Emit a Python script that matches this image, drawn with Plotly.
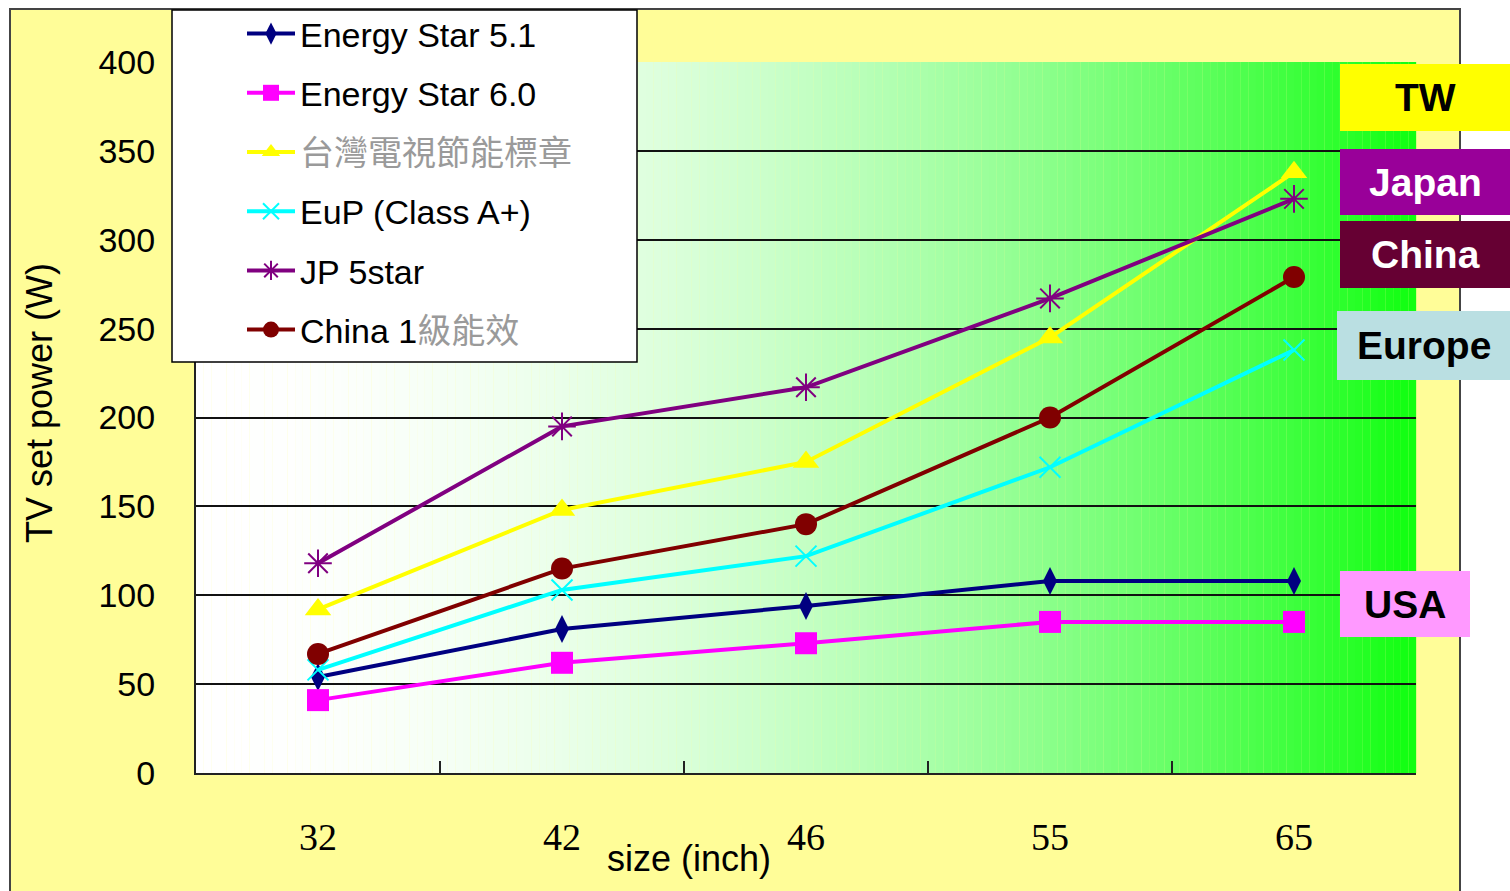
import plotly.graph_objects as go

# TV screen sizes (inch) and on-mode power limits (W) per efficiency programme
sizes = ["32", "42", "46", "55", "65"]
energy_star_51 = [54, 81, 94, 108, 108]
energy_star_60 = [41, 62, 73, 85, 85]
taiwan_label = [92, 148, 175, 245, 338]
eup_class_a_plus = [58, 103, 122, 172, 238]
jp_5star = [118, 195, 217, 267, 323]
china_grade1 = [67, 115, 140, 200, 279]

y_ticks = [0, 50, 100, 150, 200, 250, 300, 350, 400]

# region tags shown on the right-hand side
region_names = ["TW", "Japan", "China", "Europe", "USA"]

W, H = 1510, 891
L, R, T, B = 196, 94, 62, 118
PW, PH = W - L - R, H - T - B


def px(x):
    return (x - L) / PW


def py(y):
    return (H - B - y) / PH


SANS = "Liberation Sans, Arial, sans-serif"
CJK = "Liberation Sans, Noto Sans CJK TC, sans-serif"
GRAY = "#9a9a9a"

series = [
    ("Energy Star 5.1", energy_star_51, "#000080",
     dict(symbol="diamond-tall", size=20, color="#000080")),
    ("Energy Star 6.0", energy_star_60, "#FF00FF",
     dict(symbol="square", size=22, color="#FF00FF")),
    (f'<span style="color:{GRAY}">台灣電視節能標章</span>', taiwan_label, "#FFFF00",
     dict(symbol="triangle-up", size=23, color="#FFFF00")),
    ("EuP (Class A+)", eup_class_a_plus, "#00FFFF",
     dict(symbol="x-thin-open", size=21, color="#00FFFF", line=dict(width=2, color="#00FFFF"))),
    ("JP 5star", jp_5star, "#800080",
     dict(symbol="asterisk-open", size=23, color="#800080", line=dict(width=2, color="#800080"))),
    (f'China 1<span style="color:{GRAY}">級能效</span>', china_grade1, "#800000",
     dict(symbol="circle", size=22, color="#800000")),
]

fig = go.Figure()
for i, (name, vals, col, mk) in enumerate(series):
    fig.add_trace(go.Scatter(
        x=sizes, y=vals, name=name, mode="lines+markers",
        line=dict(color=col, width=4), marker=mk,
        legendgroup=f"g{i}", cliponaxis=False,
    ))

shapes = []
# chart-area panel
shapes.append(dict(type="rect", xref="paper", yref="paper",
                   x0=px(10), x1=px(1460), y0=py(900), y1=py(9),
                   fillcolor="#FFFD98", line=dict(color="#444444", width=2),
                   layer="below"))
# white-to-green horizontal gradient behind the plot
N = 160
for i in range(N):
    t = (i + 0.5) / N
    rb = int(round(16 + 239 * (1 - t * t)))
    col = f"rgb({rb},255,{rb})"
    shapes.append(dict(type="rect", xref="paper", yref="paper",
                       x0=i / N, x1=(i + 1.02) / N, y0=0, y1=1,
                       fillcolor=col, line=dict(width=0), layer="below"))
# legend frame
shapes.append(dict(type="rect", xref="paper", yref="paper",
                   x0=px(172), x1=px(637), y0=py(362), y1=py(10),
                   fillcolor="white", line=dict(color="black", width=1.5),
                   layer="above"))

annotations = [
    dict(text="size (inch)", xref="paper", yref="paper",
         x=px(689), y=py(858), xanchor="center", yanchor="middle", showarrow=False,
         font=dict(family=SANS, size=36, color="black")),
    dict(text="TV set power (W)", xref="paper", yref="paper",
         x=px(40), y=py(403), xanchor="center", yanchor="middle",
         showarrow=False, textangle=-90,
         font=dict(family=SANS, size=36, color="black")),
]

tag_styles = {
    "TW": ("#FFFF00", "black", 1340, 1512, 64, 131),
    "Japan": ("#990099", "white", 1340, 1512, 149, 215),
    "China": ("#660033", "white", 1340, 1512, 221, 288),
    "Europe": ("#BADFE2", "black", 1337, 1512, 311, 380),
    "USA": ("#FF99FF", "black", 1340, 1470, 571, 637),
}
for name in region_names:
    bg, fg, x0, x1, y0, y1 = tag_styles[name]
    shapes.append(dict(type="rect", xref="paper", yref="paper",
                       x0=px(x0), x1=px(x1), y0=py(y1), y1=py(y0),
                       fillcolor=bg, line=dict(width=0), layer="above"))
    annotations.append(dict(text=f"<b>{name}</b>", xref="paper", yref="paper",
                            x=px((x0 + min(x1, 1510)) / 2), y=py((y0 + y1) / 2),
                            xanchor="center", yanchor="middle",
                            showarrow=False,
                            font=dict(family=SANS, size=39, color=fg)))

fig.update_layout(
    width=W, height=H,
    margin=dict(l=L, r=R, t=T, b=B, pad=0, autoexpand=False),
    paper_bgcolor="white",
    plot_bgcolor="rgba(0,0,0,0)",
    shapes=shapes,
    annotations=annotations,
    showlegend=True,
    legend=dict(
        x=px(242), y=py(5), xanchor="left", yanchor="top",
        bgcolor="rgba(0,0,0,0)", borderwidth=0,
        font=dict(family=CJK, size=34, color="black"),
        itemwidth=48, tracegroupgap=12, traceorder="grouped",
    ),
    xaxis=dict(
        type="category", categoryorder="array", categoryarray=sizes,
        range=[-0.5, 4.5], autorange=False,
        tickson="boundaries", ticks="inside", ticklen=12, tickwidth=2,
        tickcolor="#222222", showline=True, linecolor="#222222", linewidth=2,
        showgrid=False, ticklabelstandoff=29,
        tickfont=dict(family="Liberation Serif, Times New Roman, serif", size=38, color="black"),
    ),
    yaxis=dict(
        range=[0, 400], tickvals=y_ticks, showgrid=True,
        gridcolor="#111111", gridwidth=1.5, zeroline=False,
        showline=True, linecolor="#222222", linewidth=2,
        ticks="", ticklabelstandoff=32,
        tickfont=dict(family=SANS, size=34, color="black"),
    ),
)

fig.write_html("out.html")
